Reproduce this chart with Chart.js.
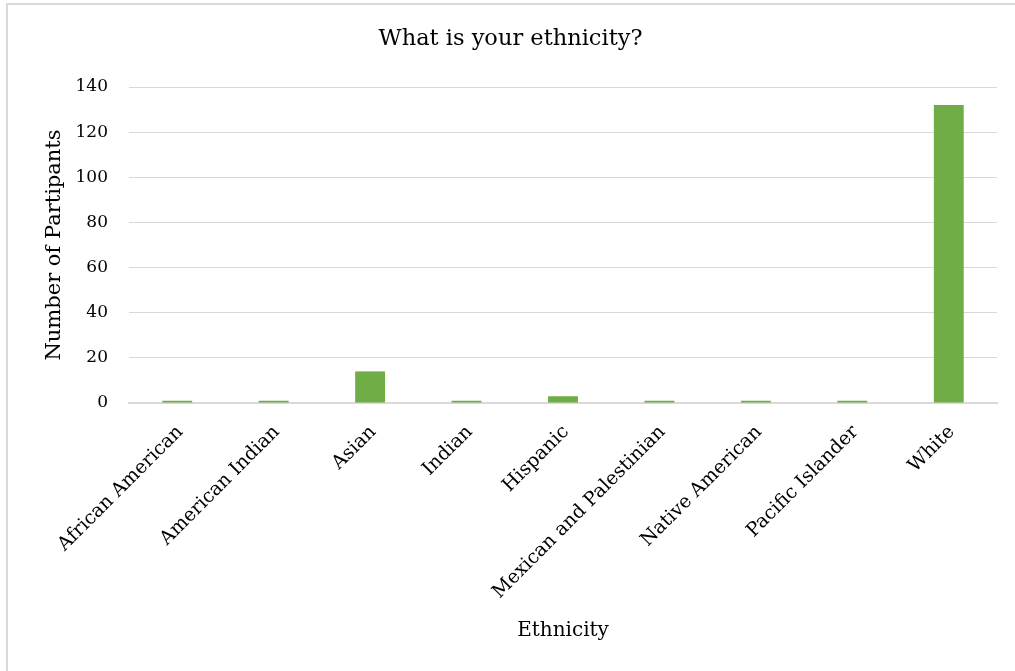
<!DOCTYPE html>
<html>
<head>
<meta charset="utf-8">
<script src="https://cdn.jsdelivr.net/npm/chart.js@4.4.1/dist/chart.umd.min.js"></script>
<style>
  html, body { margin: 0; padding: 0; background: #fff; }
  #wrap { position: relative; width: 1015px; height: 671px; overflow: hidden; }
  #frame { position: absolute; left: 6px; top: 3px; width: 1100px; height: 800px;
           border: 2px solid #d9d9d9; box-sizing: border-box; pointer-events: none; }
  canvas { position: absolute; left: 0; top: 0; }
</style>
</head>
<body>
<div id="wrap">
  <canvas id="chart" width="1015" height="671"></canvas>
  <div id="frame"></div>
</div>
<script>
// Survey responses by ethnicity
const categories = [
  'African American', 'American Indian', 'Asian', 'Indian', 'Hispanic',
  'Mexican and Palestinian', 'Native American', 'Pacific Islander', 'White'
];
const participants = [1, 1, 14, 1, 3, 1, 1, 1, 132];
const yTicks = [0, 20, 40, 60, 80, 100, 120, 140];

const serif = '"DejaVu Serif", "Liberation Serif", serif';

new Chart(document.getElementById('chart'), {
  type: 'bar',
  data: {
    labels: categories,
    datasets: [{
      data: participants,
      backgroundColor: '#70ad47',
      borderWidth: 0,
      barPercentage: 0.31,
      categoryPercentage: 1.0
    }]
  },
  options: {
    responsive: false,
    animation: false,
    layout: { padding: { left: 24, right: 18, top: 26, bottom: 28 } },
    plugins: {
      legend: { display: false },
      tooltip: { enabled: false },
      title: {
        display: true,
        text: 'What is your ethnicity?',
        color: '#000',
        font: { family: serif, size: 22.5, weight: 'normal' },
        padding: { top: 0, bottom: 34 }
      }
    },
    scales: {
      x: {
        grid: { display: false, drawTicks: false },
        border: { color: '#d9d9d9', width: 2 },
        ticks: {
          color: '#000',
          font: { family: serif, size: 19 },
          minRotation: 45,
          maxRotation: 45,
          autoSkip: false,
          padding: 18,
          labelOffset: 3
        },
        title: {
          display: true,
          text: 'Ethnicity',
          color: '#000',
          font: { family: serif, size: 20 },
          padding: { top: 0, bottom: 0 }
        },
        afterFit: (s) => { s.height = 240; }
      },
      y: {
        min: 0,
        max: 140,
        afterBuildTicks: (s) => { s.ticks = yTicks.map(v => ({ value: v })); },
        grid: { color: '#d9d9d9', lineWidth: 1, drawTicks: false },
        border: { display: false },
        ticks: {
          color: '#000',
          font: { family: serif, size: 17 },
          padding: 21
        },
        title: {
          display: true,
          text: 'Number of Partipants',
          color: '#000',
          font: { family: serif, size: 21 },
          padding: { top: 18, bottom: 0 }
        },
        afterFit: (s) => { s.width = 105; }
      }
    }
  }
});
</script>
</body>
</html>
